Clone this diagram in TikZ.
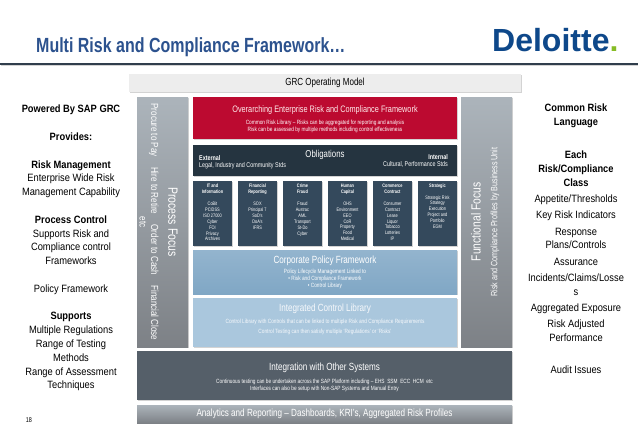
\documentclass[tikz,border=0pt]{standalone}
\usepackage{fontspec}
\setmainfont{Liberation Sans}
\newfontfamily\narrowfont[FakeStretch=0.78]{Liberation Sans}
\newfontfamily\sidefont[FakeStretch=0.88]{Liberation Sans}
\usetikzlibrary{positioning,shadows}
\definecolor{colTitle}{RGB}{44,82,142}
\definecolor{colRule}{RGB}{48,62,76}
\definecolor{colLogo}{RGB}{14,72,138}
\definecolor{colDot}{RGB}{134,188,37}
\definecolor{colRed}{RGB}{188,10,48}
\definecolor{colOblig}{RGB}{37,52,64}
\definecolor{colRisk}{RGB}{52,73,92}
\definecolor{colPolicy}{RGB}{128,167,197}
\definecolor{colLibrary}{RGB}{170,199,221}
\definecolor{colIntegr}{RGB}{85,95,105}
\definecolor{colSideTop}{RGB}{172,180,187}
\definecolor{colSideBot}{RGB}{125,129,134}
\tikzset{
  panel/.style   = {rectangle, inner sep=0pt, outer sep=0pt, anchor=north west,
                    drop shadow={shadow xshift=1pt, shadow yshift=-1.2pt, opacity=0.35}},
  sidepanel/.style = {panel, top color=colSideTop, bottom color=colSideBot,
                    minimum width=51pt, minimum height=250pt},
  widepanel/.style = {panel, minimum width=264pt},
  riskbox/.style = {panel, fill=colRisk, minimum width=39pt, minimum height=65pt},
  head/.style    = {inner sep=0pt, text=white, align=center, anchor=north,
                    font=\fontsize{10.4}{12}\narrowfont},
  small/.style   = {inner sep=0pt, text=white, align=center, anchor=north,
                    font=\fontsize{6.1}{7}\narrowfont},
  riskhead/.style = {inner sep=0pt, text=white, align=center, anchor=north,
                    font=\fontsize{5}{5.9}\narrowfont},
  sidetext/.style = {inner sep=0pt, align=center, anchor=north,
                    font=\fontsize{10.6}{13.8}\sidefont},
}

\begin{document}
\begin{tikzpicture}[x=1pt, y=1pt]
\useasboundingbox (0,0) rectangle (638,-442);

%% ── Header ────────────────────────────────────────────────
\node[inner sep=0pt, anchor=base west, text=colTitle, font=\fontsize{20.5}{22}\narrowfont\bfseries]
  (title) at (36,-52) {Multi Risk and Compliance Framework…};
\node[inner sep=0pt, anchor=base west, text=colLogo, font=\fontsize{32}{34}\selectfont\bfseries]
  (logo) at (492,-51) {Deloitte\textcolor{colDot}{.}};
\node[panel, anchor=west, fill=colRule, minimum width=638pt, minimum height=1.4pt]
  (rule) at (0,-64) {};

%% ── Row 0: Operating model bar ────────────────────────────
\node[panel, fill=gray!14, minimum width=392pt, minimum height=18pt,
      font=\fontsize{10.3}{12}\narrowfont] (grc) at (129,-74) {GRC Operating Model};

%% ── Side panels ───────────────────────────────────────────
\node[sidepanel] (process) at (137,-97) {};
\node[sidepanel, right=273pt of process.north east, anchor=north west] (functional) {};

%% ── Row 1: Framework + obligations ────────────────────────
\node[widepanel, fill=colRed, minimum height=42pt,
      right=5pt of process.north east, anchor=north west] (frame) {};
\node[widepanel, fill=colOblig, minimum height=31pt,
      below=6pt of frame.south west, anchor=north west] (oblig) {};

%% ── Row 2: Risk classes ───────────────────────────────────
\node[riskbox, below=5pt of oblig.south west, anchor=north west] (itbox) {};
\node[riskbox, right=6pt of itbox.north east, anchor=north west] (finbox) {};
\node[riskbox, right=6pt of finbox.north east, anchor=north west] (crimebox) {};
\node[riskbox, right=6pt of crimebox.north east, anchor=north west] (humanbox) {};
\node[riskbox, right=6pt of humanbox.north east, anchor=north west] (commbox) {};
\node[riskbox, right=6pt of commbox.north east, anchor=north west] (stratbox) {};

%% ── Row 3: Policy + library ───────────────────────────────
\node[widepanel, top color=colPolicy!85!white, bottom color=colPolicy, minimum height=44pt,
      below=4pt of itbox.south west, anchor=north west] (policy) {};
\node[widepanel, fill=colLibrary, minimum height=49pt,
      below=4pt of policy.south west, anchor=north west] (library) {};

%% ── Row 4: Integration + analytics ────────────────────────
\node[panel, fill=colIntegr, minimum width=375pt, minimum height=49pt,
      below=4pt of process.south west, anchor=north west] (integr) {};
\node[panel, top color=colSideTop, bottom color=colSideBot, minimum width=375pt, minimum height=18pt,
      below=5pt of integr.south west, anchor=north west] (analytics) {};

%% ── Text: side panels ─────────────────────────────────────
\node[inner sep=0pt, text=white, rotate=-90, align=center, font=\fontsize{10.3}{11.5}\narrowfont]
  (flows) at (149,-222) {Procure to Pay\quad Hire to Retire\quad Order to Cash\quad Financial Close\\etc};
\node[inner sep=0pt, text=white, rotate=-90, font=\fontsize{13.4}{15}\narrowfont]
  (processlab) at (173,-222) {Process Focus};
\node[inner sep=0pt, text=white, rotate=90, font=\fontsize{13.2}{15}\narrowfont]
  (functlab) at (476,-222) {Functional Focus};
\node[inner sep=0pt, text=white, rotate=90, font=\fontsize{9.2}{11}\narrowfont]
  (profiles) at (495,-222) {Risk and Compliance Profiles by Business Unit};

%% ── Text: framework + obligations ─────────────────────────
\node[head, text=red!8, font=\fontsize{9.4}{11}\narrowfont, below=8pt of frame.north, anchor=north] (framelab)
  {Overarching Enterprise Risk and Compliance Framework};
\node[small, below=5.5pt of framelab, anchor=north] (frametxt)
  {Common Risk Library – Risks can be aggregated for reporting and analysis\\
   Risk can be assessed by multiple methods including control effectiveness};
\node[head, font=\fontsize{10}{12}\narrowfont, below=5.5pt of oblig.north, anchor=north] (obliglab) {Obligations};
\node[small, align=left, anchor=north west, font=\fontsize{6.9}{7.6}\narrowfont]
  (external) at ([xshift=6pt,yshift=-10pt]oblig.north west) {\textbf{External}\\Legal, Industry and Community Stds};
\node[small, align=right, anchor=north east, font=\fontsize{6.9}{7.6}\narrowfont]
  (internal) at ([xshift=-9pt,yshift=-9pt]oblig.north east) {\textbf{Internal}\\Cultural, Performance Stds};

%% ── Text: risk classes ────────────────────────────────────
\node[riskhead, below=3pt of itbox.north, anchor=north] (ittxt)
  {\textbf{IT and}\\\textbf{Information}\\[5.9pt]CoBit\\PCIDSS\\ISO 27000\\Cyber\\FOI\\Privacy\\Archives};
\node[riskhead, below=3pt of finbox.north, anchor=north] (fintxt)
  {\textbf{Financial}\\\textbf{Reporting}\\[5.9pt]SOX\\Principal 7\\SoD's\\DoA's\\IFRS};
\node[riskhead, below=3pt of crimebox.north, anchor=north] (crimetxt)
  {\textbf{Crime}\\\textbf{Fraud}\\[5.9pt]Fraud\\Austrac\\AML\\Transport\\St-Do\\Cyber};
\node[riskhead, below=3pt of humanbox.north, anchor=north] (humantxt)
  {\textbf{Human}\\\textbf{Capital}\\[5.9pt]OHS\\Environment\\EEO\\CoR\\Property\\Food\\Medical};
\node[riskhead, below=3pt of commbox.north, anchor=north] (commtxt)
  {\textbf{Commerce}\\\textbf{Contract}\\[5.9pt]Consumer\\Contract\\Lease\\Liquor\\Tobacco\\Lotteries\\IP};
\node[riskhead, below=3pt of stratbox.north, anchor=north] (strattxt)
  {\textbf{Strategic}\\[5.3pt]Strategic Risk\\Strategy\\Execution\\Project and\\Portfolio\\EGM};

%% ── Text: policy + library ────────────────────────────────
\node[head, below=6pt of policy.north, anchor=north] (policylab) {Corporate Policy Framework};
\node[small, below=3pt of policylab, anchor=north] (policytxt)
  {Policy Lifecycle Management Linked to\\
   • Risk and Compliance Framework\\
   • Control Library};
\node[head, text=white!90!colLibrary, below=5.7pt of library.north, anchor=north] (librarylab) {Integrated Control Library};
\node[small, text=white!90!colLibrary, below=5.5pt of librarylab, anchor=north, font=\fontsize{6.1}{10}\narrowfont] (librarytxt)
  {Control Library with Controls that can be linked to multiple Risk and Compliance Requirements\\
   Control Testing can then satisfy multiple ‘Regulations’ or ‘Risks’};

%% ── Text: integration + analytics ─────────────────────────
\node[head, below=11.7pt of integr.north, anchor=north] (integrlab) {Integration with Other Systems};
\node[small, below=6.5pt of integrlab, anchor=north] (integrtxt)
  {Continuous testing can be undertaken across the SAP Platform including – EHS\ \ SSM\ \ ECC\ \ HCM\ \ etc\\
   Interfaces can also be setup with Non-SAP Systems and Manual Entry};
\node[head, anchor=center] (analyticslab) at (analytics.center)
  {Analytics and Reporting – Dashboards, KRI’s, Aggregated Risk Profiles};

%% ── Side columns ──────────────────────────────────────────
\node[sidetext] (powered) at (71,-105) {\textbf{Powered By SAP GRC}\\ \\\textbf{Provides:}\\ \\
  \textbf{Risk Management}\\Enterprise Wide Risk\\Management Capability\\ \\
  \textbf{Process Control}\\Supports Risk and\\Compliance control\\Frameworks\\ \\
  Policy Framework\\ \\
  \textbf{Supports}\\Multiple Regulations\\Range of Testing\\Methods\\Range of Assessment\\Techniques};
\node[sidetext] (language) at (576,-104) {\textbf{Common Risk}\\\textbf{Language}\\[19.2pt]
  \textbf{Each}\\\textbf{Risk/Compliance}\\\textbf{Class}\\[2.2pt]
  Appetite/Thresholds\\[2.2pt]Key Risk Indicators\\[3pt]
  Response\\Plans/Controls\\[3pt]Assurance\\[2.2pt]
  Incidents/Claims/Losse\\s\\[2.2pt]Aggregated Exposure\\[2.2pt]
  Risk Adjusted\\Performance\\[18.2pt]Audit Issues};
\node[inner sep=0pt, font=\fontsize{7}{8}\narrowfont] (pagenum) at (29,-420) {18};

\end{tikzpicture}
\end{document}
